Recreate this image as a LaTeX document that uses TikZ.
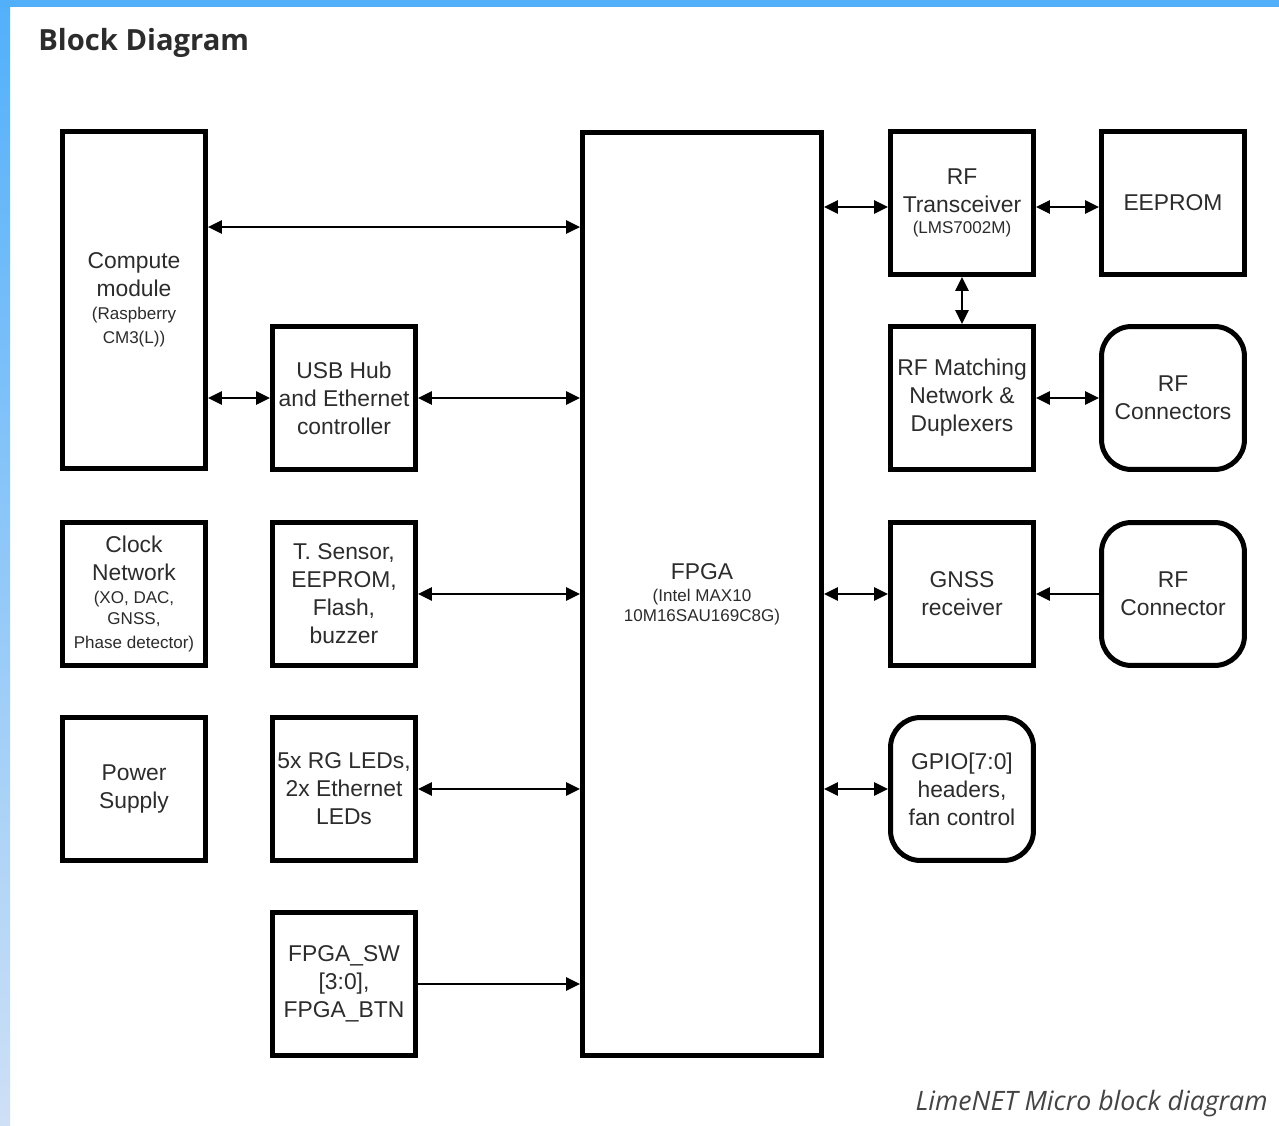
\documentclass[tikz,border=0pt]{standalone}
\usepackage{fontspec}
\setmainfont{Liberation Sans}
\newfontfamily\headfont{Open Sans}
\usetikzlibrary{positioning,arrows.meta}
\definecolor{frameblue}{RGB}{82,176,250}
\definecolor{framepale}{RGB}{206,224,246}
\definecolor{inkgray}{RGB}{44,44,44}
\definecolor{capgray}{RGB}{68,68,68}
\tikzset{
  blk/.style={draw=black,line width=0.1cm,fill=white,inner sep=0pt,align=center,
    text=inkgray,font=\fontsize{13}{15.9}\selectfont,
    minimum width=2.86cm,minimum height=2.86cm},
  rblk/.style={blk,rounded corners=0.6cm},
  link/.style={draw=black,line width=0.85pt,
    {Triangle[length=0.28cm,width=0.27cm]}-{Triangle[length=0.28cm,width=0.27cm]}},
  feed/.style={draw=black,line width=0.85pt,-{Triangle[length=0.28cm,width=0.27cm]}},
}
\newcommand{\sm}[1]{{\fontsize{9.7}{12}\selectfont #1}}
\begin{document}
\begin{tikzpicture}[x=0.02cm,y=-0.02cm]
        \useasboundingbox (0,0) rectangle (1279,1126);
        \fill[white] (0,0) rectangle (1279,1126);
        \shade[top color=frameblue,bottom color=framepale] (0,0) rectangle (10,1126);
        \fill[frameblue] (0,0) rectangle (1279,7);
        \node[anchor=base west,inner sep=0pt,text=inkgray,
          font=\headfont\bfseries\fontsize{16.6}{19}\selectfont] (title) at (38,50) {Block Diagram};
        % left column
        \node[blk,minimum height=6.74cm] (cm) at (134,300)
          {Compute\\module\\[-3pt]\sm{(Raspberry}\\[-2pt]\sm{CM3(L))}};
        \node[blk] (clk) at (134,594)
          {Clock\\Network\\[-3pt]\sm{(XO, DAC,}\\[-4pt]\sm{GNSS,}\\[-2pt]\sm{Phase detector)}};
        \node[blk] (pwr) at (134,789) {Power\\Supply};
        \node[blk] (usb) at (344,398) {USB Hub\\and Ethernet\\controller};
        \node[blk] (tsens) at (344,594) {T. Sensor,\\EEPROM,\\Flash,\\buzzer};
        \node[blk] (leds) at (344,789) {5x RG LEDs,\\2x Ethernet\\LEDs};
        \node[blk] (sw) at (344,984) {FPGA\_SW\\{[3:0],}\\FPGA\_BTN};
        % FPGA
        \node[blk,minimum width=4.78cm,minimum height=18.48cm] (fpga) at (702,594)
          {FPGA\\[-3.5pt]\sm{(Intel MAX10}\\[-4.5pt]\sm{10M16SAU169C8G)}};
        % right column
        \node[blk] (rftrx) at (962,203) {RF\\Transceiver\\[-4pt]\sm{(LMS7002M)}};
        \node[blk] (eeprom) at (1173,203) {EEPROM};
        \node[blk] (rfmatch) at (962,398) {RF Matching\\Network \&\\Duplexers};
        \node[rblk] (rfconns) at (1173,398) {RF\\Connectors};
        \node[blk] (gnss) at (962,594) {GNSS\\receiver};
        \node[rblk] (rfconn) at (1173,594) {RF\\Connector};
        \node[rblk] (gpio) at (962,789) {GPIO[7:0]\\headers,\\fan control};
        % connectors
        \coordinate (cmbus) at ([yshift=1.46cm]cm.east);
        \coordinate (trxin) at ([yshift=-0.08cm]rftrx.west);
        \coordinate (trxout) at ([yshift=-0.08cm]rftrx.east);
        \draw[link] (cmbus) -- (cmbus -| fpga.west);
        \draw[link] (usb.west -| cm.east) -- (usb.west);
        \draw[link] (usb.east) -- (usb.east -| fpga.west);
        \draw[link] (tsens.east) -- (tsens.east -| fpga.west);
        \draw[link] (leds.east) -- (leds.east -| fpga.west);
        \draw[feed] (sw.east) -- (sw.east -| fpga.west);
        \draw[link] (trxin -| fpga.east) -- (trxin);
        \draw[link] (trxout) -- (trxout -| eeprom.west);
        \draw[link] (rftrx.south) -- (rfmatch.north);
        \draw[link] (rfmatch.east) -- (rfconns.west);
        \draw[link] (gnss.west -| fpga.east) -- (gnss.west);
        \draw[feed] (rfconn.west) -- (gnss.east);
        \draw[link] (gpio.west -| fpga.east) -- (gpio.west);
        \node[anchor=base east,inner sep=0pt,text=capgray,
          font=\headfont\itshape\fontsize{15.2}{18}\selectfont] (caption) at (1268,1110)
          {LimeNET Micro block diagram};
      \end{tikzpicture}
\end{document}
